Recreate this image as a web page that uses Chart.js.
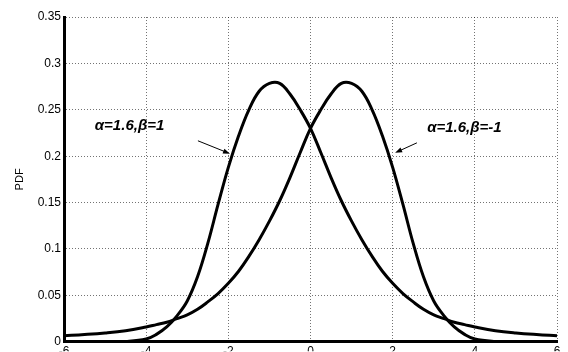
<!DOCTYPE html>
<html>
<head>
<meta charset="utf-8">
<script src="https://cdn.jsdelivr.net/npm/chart.js@4.4.1/dist/chart.umd.min.js"></script>
<style>
  html, body { margin: 0; padding: 0; background: #fff; }
  #wrap { width: 568px; height: 352px; position: relative; }
</style>
</head>
<body>
<div id="wrap"><canvas id="c" width="568" height="352"></canvas></div>
<script>
// ---- data ----
const xValues = [-6,-5.5,-5,-4.5,-4,-3.75,-3.5,-3.25,-3,-2.75,-2.5,-2.25,-2,-1.75,-1.5,-1.25,-1,-0.75,-0.5,-0.25,0,0.25,0.5,0.75,1,1.25,1.5,1.75,2,2.25,2.5,2.75,3,3.25,3.5,3.75,4,4.5,5,5.5,6];
// alpha=1.6, beta=1 (peak on the left)
const pdfBetaPos = [0,0,0,0.0004,0.003,0.008,0.016,0.028,0.044,0.070,0.106,0.148,0.188,0.222,0.250,0.270,0.2785,0.2785,0.267,0.250,0.230,0.204,0.177,0.152,0.130,0.110,0.092,0.076,0.063,0.052,0.043,0.035,0.029,0.025,0.021,0.0185,0.016,0.012,0.0095,0.0078,0.0065];
// alpha=1.6, beta=-1 (peak on the right)
const pdfBetaNeg = [0.0065,0.0078,0.0095,0.012,0.016,0.0185,0.021,0.025,0.029,0.035,0.043,0.052,0.063,0.076,0.092,0.110,0.130,0.152,0.177,0.204,0.230,0.250,0.267,0.2785,0.2785,0.270,0.250,0.222,0.188,0.148,0.106,0.070,0.044,0.028,0.016,0.008,0.003,0.0004,0,0,0];
const xTicks = [-6,-4,-2,0,2,4,6];
const yTicks = [0,0.05,0.1,0.15,0.2,0.25,0.3,0.35];
const labelBetaPos = 'α=1.6,β=1';
const labelBetaNeg = 'α=1.6,β=-1';
const yTitle = 'PDF';

// annotation placement (data coordinates)
const notes = [
  { text: labelBetaPos, tx: -5.25, ty: 0.2326, from: [-2.74, 0.2166], to: [-1.96, 0.2027] },
  { text: labelBetaNeg, tx: 2.84, ty: 0.2305, from: [2.59, 0.2144], to: [2.06, 0.2037] }
];

const toPts = ys => xValues.map((x, i) => ({ x: x, y: ys[i] }));

const annotPlugin = {
  id: 'annot',
  afterDatasetsDraw(chart) {
    const { ctx, scales: { x, y } } = chart;
    ctx.save();
    ctx.fillStyle = '#000';
    ctx.strokeStyle = '#000';
    ctx.font = 'italic bold 15px "Liberation Sans", Arial, sans-serif';
    ctx.textBaseline = 'middle';
    ctx.textAlign = 'left';
    notes.forEach(n => {
      ctx.fillText(n.text, x.getPixelForValue(n.tx), y.getPixelForValue(n.ty));
      const x1 = x.getPixelForValue(n.from[0]), y1 = y.getPixelForValue(n.from[1]);
      const x2 = x.getPixelForValue(n.to[0]), y2 = y.getPixelForValue(n.to[1]);
      const ang = Math.atan2(y2 - y1, x2 - x1);
      ctx.lineWidth = 1;
      ctx.beginPath();
      ctx.moveTo(x1, y1);
      ctx.lineTo(x2 - 4 * Math.cos(ang), y2 - 4 * Math.sin(ang));
      ctx.stroke();
      const h = 7, w = 2.5;
      ctx.beginPath();
      ctx.moveTo(x2, y2);
      ctx.lineTo(x2 - h * Math.cos(ang) + w * Math.sin(ang), y2 - h * Math.sin(ang) - w * Math.cos(ang));
      ctx.lineTo(x2 - h * Math.cos(ang) - w * Math.sin(ang), y2 - h * Math.sin(ang) + w * Math.cos(ang));
      ctx.closePath();
      ctx.fill();
    });
    ctx.restore();
  }
};

const fontFam = '"Liberation Sans", Arial, sans-serif';

new Chart(document.getElementById('c'), {
  type: 'line',
  data: {
    datasets: [
      { label: labelBetaPos, data: toPts(pdfBetaPos), borderColor: '#000', borderWidth: 3, pointRadius: 0, fill: false, tension: 0.4 },
      { label: labelBetaNeg, data: toPts(pdfBetaNeg), borderColor: '#000', borderWidth: 3, pointRadius: 0, fill: false, tension: 0.4 }
    ]
  },
  options: {
    responsive: false,
    animation: false,
    devicePixelRatio: 1,
    layout: { padding: { left: 0, right: 11, top: 17, bottom: 0 } },
    plugins: { legend: { display: false }, tooltip: { enabled: false } },
    scales: {
      x: {
        type: 'linear',
        min: -6, max: 6,
        afterBuildTicks: s => { s.ticks = xTicks.map(v => ({ value: v })); },
        afterFit: s => { s.height = 9.5; },
        grid: { color: 'rgba(0,0,0,0.55)', lineWidth: 1, drawTicks: false },
        border: { display: true, color: '#000', width: 3, dash: [1, 2] },
        ticks: { color: '#000', padding: 3, font: { family: fontFam, size: 12 }, maxRotation: 0, autoSkip: false }
      },
      y: {
        type: 'linear',
        min: 0, max: 0.35,
        afterBuildTicks: s => { s.ticks = yTicks.map(v => ({ value: v })); },
        afterFit: s => { s.width = 64; },
        grid: { color: 'rgba(0,0,0,0.55)', lineWidth: 1, drawTicks: false },
        border: { display: true, color: '#000', width: 3, dash: [1, 2] },
        title: { display: true, text: yTitle, color: '#000', font: { family: fontFam, size: 11 }, padding: { top: 13, bottom: 0 } },
        ticks: { color: '#000', padding: 3, font: { family: fontFam, size: 12 }, callback: v => String(Math.round(v * 100) / 100) }
      }
    }
  },
  plugins: [annotPlugin]
});
</script>
</body>
</html>
